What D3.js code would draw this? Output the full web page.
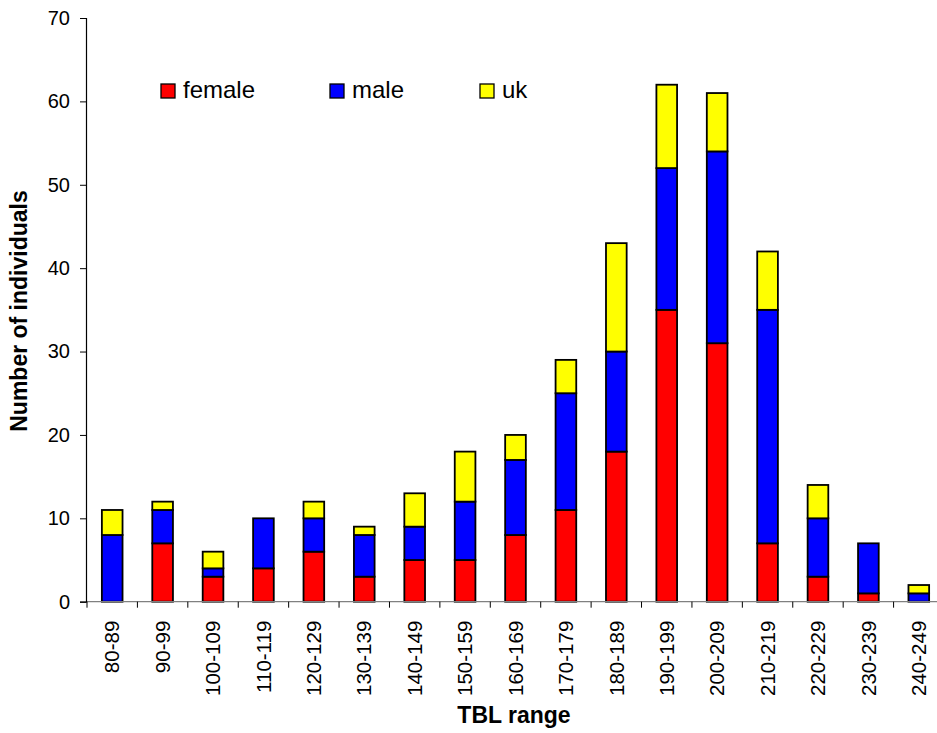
<!DOCTYPE html>
<html>
<head>
<meta charset="utf-8">
<script src="https://cdn.jsdelivr.net/npm/d3@7"></script>
<style>
  body { margin: 0; background: #fff; }
  svg { display: block; font-family: "Liberation Sans", Arial, sans-serif; }
</style>
</head>
<body>
<svg id="chart" width="937" height="733"></svg>
<script>
// data
const ranges = ['80-89', '90-99', '100-109', '110-119', '120-129', '130-139', '140-149',
  '150-159', '160-169', '170-179', '180-189', '190-199', '200-209', '210-219',
  '220-229', '230-239', '240-249']
const female = [0, 7, 3, 4, 6, 3, 5, 5, 8, 11, 18, 35, 31, 7, 3, 1, 0]
const male = [8, 4, 1, 6, 4, 5, 4, 7, 9, 14, 12, 17, 23, 28, 7, 6, 1]
const uk = [3, 1, 2, 0, 2, 1, 4, 6, 3, 4, 13, 10, 7, 7, 4, 0, 1]
const seriesNames = ['female', 'male', 'uk']
const seriesColors = ['#ff0000', '#0000ff', '#ffff00']
const yTicks = [0, 10, 20, 30, 40, 50, 60, 70]

function drawChart() {
  const svg = d3.select('#chart')

  const x0 = 87, x1 = 944
  const yBase = 601.7, yTop = 18

  const x = d3.scaleBand()
    .domain(ranges)
    .range([x0, x1])
    .paddingInner(0.59)
    .paddingOuter(0.295)

  const y = d3.scaleLinear()
    .domain([0, 70])
    .range([yBase, yTop])

  const rows = ranges.map((r, i) => ({ range: r, female: female[i], male: male[i], uk: uk[i] }))
  const stacked = d3.stack().keys(seriesNames)(rows)

  // bars
  svg.append('g')
    .selectAll('g')
    .data(stacked)
    .join('g')
    .attr('fill', (d, i) => seriesColors[i])
    .selectAll('rect')
    .data(d => d.filter(p => p[1] - p[0] > 0))
    .join('rect')
    .attr('x', d => x(d.data.range))
    .attr('width', x.bandwidth())
    .attr('y', d => y(d[1]))
    .attr('height', d => y(d[0]) - y(d[1]))
    .attr('stroke', '#000')
    .attr('stroke-width', 1.8)

  // x axis: labels from the band scale, tick marks between the bands
  const step = x.step()
  const xAxis = svg.append('g')
    .attr('transform', `translate(0,${yBase})`)
    .call(d3.axisBottom(x).tickSize(0).tickPadding(0))
  xAxis.select('.domain').remove()
  xAxis.selectAll('text')
    .attr('transform', 'rotate(-90)')
    .attr('x', -19)
    .attr('y', 0)
    .attr('dy', '0.35em')
    .attr('text-anchor', 'end')
    .attr('font-size', 20.5)
    .attr('font-family', '"Liberation Sans", Arial, sans-serif')
    .attr('fill', '#000')

  xAxis.append('line')
    .attr('x1', x0).attr('x2', x1)
    .attr('stroke', '#808080').attr('stroke-width', 1.2)
  xAxis.selectAll('.sep')
    .data(ranges)
    .join('line')
    .attr('class', 'sep')
    .attr('x1', (d, i) => x0 + i * step)
    .attr('x2', (d, i) => x0 + i * step)
    .attr('y1', 0).attr('y2', 6)
    .attr('stroke', '#000').attr('stroke-width', 1)

  // y axis
  const yAxis = svg.append('g')
    .attr('transform', `translate(${x0 - 1},0)`)
    .call(d3.axisLeft(y).tickValues(yTicks).tickSize(6).tickPadding(10))
  yAxis.select('.domain').attr('stroke', '#000').attr('stroke-width', 1.2)
  yAxis.selectAll('text')
    .attr('font-size', 20)
    .attr('font-family', '"Liberation Sans", Arial, sans-serif')
    .attr('fill', '#000')

  // axis titles
  svg.append('text')
    .attr('transform', 'translate(27,311) rotate(-90)')
    .attr('text-anchor', 'middle')
    .attr('font-size', 23)
    .attr('font-weight', 'bold')
    .text('Number of individuals')

  svg.append('text')
    .attr('x', 514)
    .attr('y', 723)
    .attr('text-anchor', 'middle')
    .attr('font-size', 23)
    .attr('font-weight', 'bold')
    .text('TBL range')

  // legend
  const legendX = [161, 330, 480]
  const legend = svg.append('g')
    .selectAll('g')
    .data(seriesNames)
    .join('g')
    .attr('transform', (d, i) => `translate(${legendX[i]},84)`)
  legend.append('rect')
    .attr('width', 14).attr('height', 14)
    .attr('fill', (d, i) => seriesColors[i])
    .attr('stroke', '#000').attr('stroke-width', 1.3)
  legend.append('text')
    .attr('x', 22)
    .attr('y', 14)
    .attr('font-size', 24)
    .text(d => d)
}

document.addEventListener('DOMContentLoaded', drawChart, false)
</script>
</body>
</html>
